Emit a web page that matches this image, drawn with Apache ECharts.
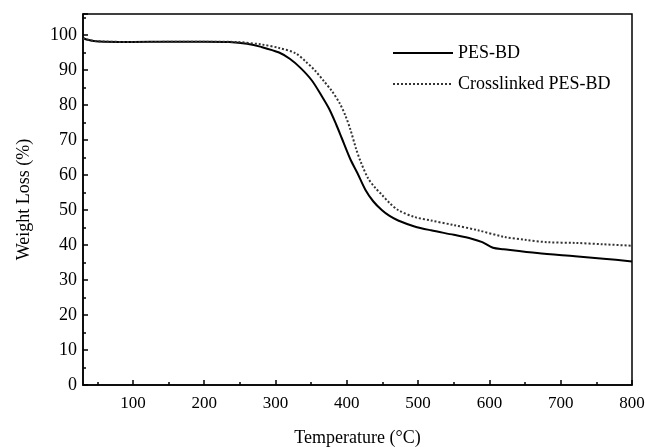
<!DOCTYPE html>
<html>
<head>
<meta charset="utf-8">
<script src="https://cdn.jsdelivr.net/npm/echarts@6/dist/echarts.min.js"></script>
<style>
	html, body { margin: 0; padding: 0; background: #fff; }
	#tgaChart { width: 645px; height: 447px; }
</style>
</head>
<body>
<div id="tgaChart"></div>
<script>
// 数据 (温度 °C, 失重 %)
var seriesNames = ['PES-BD', 'Crosslinked PES-BD'];
var xMajorTicks = [100, 200, 300, 400, 500, 600, 700, 800];
var xMinorTicks = [50, 150, 250, 350, 450, 550, 650, 750];
var pesBd = [
	[30, 99.2], [35, 98.7], [45, 98.3], [60, 98.1], [100, 98.0], [150, 98.1], [200, 98.1],
	[235, 98.0], [260, 97.5], [280, 96.6], [305, 95.0], [320, 93.2], [335, 90.6], [351, 87.0],
	[365, 82.5], [375, 79.0], [385, 74.5], [393, 70.5], [405, 64.5], [415, 60.5], [426, 55.8],
	[437, 52.5], [449, 50.0], [460, 48.3], [472, 47.0], [495, 45.3], [518, 44.2], [550, 42.9],
	[575, 41.8], [590, 40.8], [605, 39.2], [620, 38.8], [667, 37.7], [720, 36.8], [760, 36.1],
	[800, 35.3]
];
var crosslinkedPesBd = [
	[30, 99.0], [45, 98.3], [100, 98.0], [200, 98.1], [245, 98.0], [280, 97.3], [305, 96.3],
	[328, 94.8], [342, 92.5], [356, 89.7], [368, 86.8], [379, 84.0], [390, 80.5], [398, 77.0],
	[405, 73.0], [413, 67.5], [420, 63.5], [430, 59.0], [440, 56.3], [449, 54.4], [460, 52.0],
	[472, 50.0], [495, 48.0], [518, 47.0], [550, 45.7], [584, 44.2], [621, 42.3], [650, 41.5],
	[681, 40.8], [720, 40.6], [760, 40.2], [800, 39.8]
];

(function() {
	var tgaChart = echarts.init(document.getElementById('tgaChart'));
	var serif = '"Liberation Serif", "DejaVu Serif", serif';

	var tgaOption = {
		animation: false,
		backgroundColor: '#fff',
		textStyle: { fontFamily: serif, color: '#000' },
		grid: {
			show: true,
			left: 83,
			right: 13,
			top: 14,
			bottom: 62,
			outerBoundsMode: 'none',
			borderColor: '#000',
			borderWidth: 1.5,
			backgroundColor: 'transparent'
		},
		legend: {
			orient: 'vertical',
			left: 392,
			top: 44,
			padding: 0,
			itemWidth: 60,
			itemHeight: 14,
			itemGap: 13,
			data: seriesNames,
			itemStyle: { color: 'transparent', borderColor: 'transparent', borderWidth: 0 },
			textStyle: { fontFamily: serif, fontSize: 18, color: '#000' }
		},
		xAxis: [{
			type: 'value',
			min: 30,
			max: 800,
			name: 'Temperature (°C)',
			nameLocation: 'middle',
			nameGap: 44,
			nameTextStyle: { fontFamily: serif, fontSize: 18, color: '#000' },
			axisLine: { lineStyle: { color: '#000', width: 1.5 } },
			axisTick: { inside: true, length: 5, customValues: xMajorTicks, lineStyle: { color: '#000', width: 1.5 } },
			axisLabel: { customValues: xMajorTicks, margin: 10, fontFamily: serif, fontSize: 17, color: '#000' },
			splitLine: { show: false }
		}, {
			type: 'value',
			min: 30,
			max: 800,
			position: 'bottom',
			axisLine: { show: false },
			axisTick: { inside: true, length: 3, customValues: xMinorTicks, lineStyle: { color: '#000', width: 1.5 } },
			axisLabel: { show: false },
			splitLine: { show: false }
		}],
		yAxis: {
			type: 'value',
			min: 0,
			max: 106,
			interval: 10,
			name: 'Weight Loss (%)',
			nameLocation: 'middle',
			nameGap: 50,
			nameTextStyle: { fontFamily: serif, fontSize: 18, color: '#000' },
			axisLine: { lineStyle: { color: '#000', width: 1.5 } },
			axisTick: { inside: true, length: 5, lineStyle: { color: '#000', width: 1.5 } },
			minorTick: { show: true, splitNumber: 2, length: 3, lineStyle: { color: '#000', width: 1.5 } },
			axisLabel: { margin: 6, showMaxLabel: false, fontFamily: serif, fontSize: 18, color: '#000' },
			splitLine: { show: false }
		},
		series: [{
			name: seriesNames[0],
			type: 'line',
			xAxisIndex: 0,
			data: pesBd,
			smooth: 0.3,
			showSymbol: false,
			symbol: 'none',
			lineStyle: { color: '#000', width: 2, type: 'solid' },
			itemStyle: { color: '#000' }
		}, {
			name: seriesNames[1],
			type: 'line',
			xAxisIndex: 0,
			data: crosslinkedPesBd,
			smooth: 0.3,
			showSymbol: false,
			symbol: 'none',
			lineStyle: { color: '#333', width: 2, type: 'dotted' },
			itemStyle: { color: '#333' }
		}]
	};
	tgaChart.setOption(tgaOption);
})();
</script>
</body>
</html>
